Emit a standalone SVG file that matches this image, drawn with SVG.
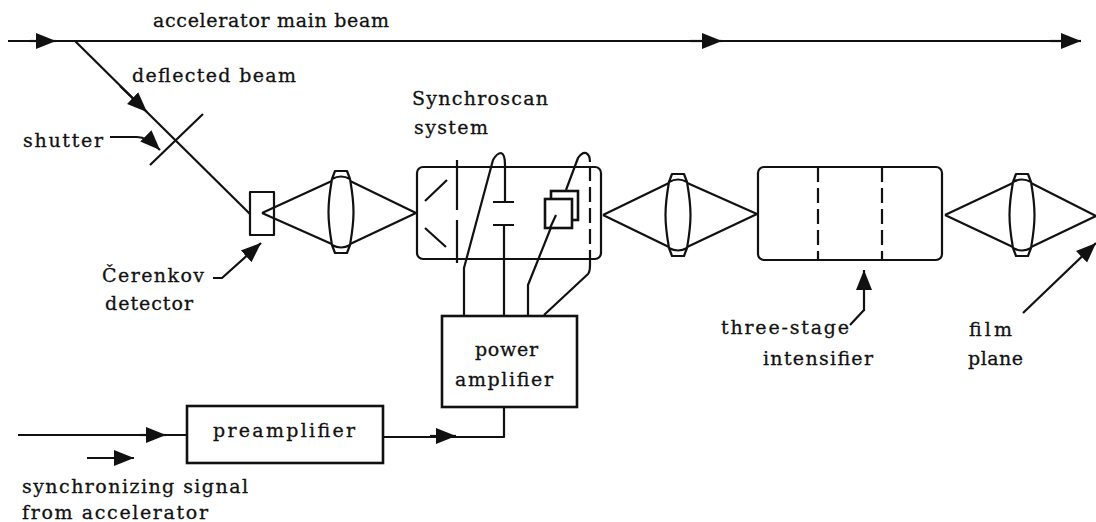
<svg xmlns="http://www.w3.org/2000/svg" width="1096" height="522" viewBox="0 0 1096 522">
<style>
.l{fill:none;stroke:#111;stroke-width:2.200;stroke-linejoin:round}
.b{fill:#fff;stroke:#111;stroke-width:2.600}
.w{fill:#fff;stroke:#111;stroke-width:2.200;stroke-linejoin:round}
.d{stroke-dasharray:15 6}
text{font-family:"DejaVu Serif","Liberation Serif",serif;font-size:19px;fill:#111;stroke:#111;stroke-width:.3px}
</style>
<defs>
<marker id="a" markerUnits="userSpaceOnUse" markerWidth="21" markerHeight="18" refX="20" refY="9" orient="auto"><path d="M0,1L20,9L0,17Z" fill="#111"/></marker>
<path id="lens" class="w" d="M-12.500,0C-12.500,-14 -10,-27 -9,-33L-6,-41H6L9,-33C10,-27 12.500,-14 12.500,0C12.500,14 10,27 9,33L6,41H-6L-9,33C-10,27 -12.500,14 -12.500,0ZM-9,-33Q0,-38 9,-33M-9,33Q0,38 9,33"/>
</defs>
<rect width="1096" height="522" fill="#fff"/>
<g id="connectors">
<path class="l" d="M8,41H1080"/>
<path class="l" d="M30,41H56" marker-end="url(#a)"/>
<path class="l" d="M690,41H722" marker-end="url(#a)"/>
<path class="l" d="M1050,41H1081" marker-end="url(#a)"/>
<path class="l" d="M75,41L250,214"/>
<path class="l" d="M120,86L147,112" marker-end="url(#a)"/>
<path class="l" d="M150,165L203,114"/>
<path class="l" d="M110,137H137Q147,137 160,150" marker-end="url(#a)"/>
<path class="l" d="M213,278H222L261,243" marker-end="url(#a)"/>
<path class="l" d="M262,213L334,180M262,213L334,245M348,180L416,213L348,245"/>
<path class="l" d="M603,215L671,182M603,215L671,248M685,182L757,214L685,248"/>
<path class="l" d="M945,215L1015,182M945,215L1015,248M1029,182L1096,216L1029,248"/>
<path class="l" d="M457,160V210M457,220V263"/>
<path class="l" d="M464,315V268L493,160Q497,153 501,153Q505,154 505,165V202M493,202H514M493,225H514M504,225V315"/>
<path class="l" d="M556,215L528,285V315"/>
<path class="l" d="M544,315L588,274Q590,272 590,265"/>
<path class="l d" d="M590,265V160"/>
<path class="l" d="M566,190L578,158Q582,152 586,153Q590,155 590,162"/>
<path class="l" d="M504,407V437H383M18,435H187"/>
<path class="l" d="M430,436H456" marker-end="url(#a)"/>
<path class="l" d="M140,435H166" marker-end="url(#a)"/>
<path class="l" d="M87,458H134" marker-end="url(#a)"/>
<path class="l" d="M864,311V270" marker-end="url(#a)"/>
<path class="l" d="M864,310L850,325"/>
<path class="l" d="M1023,313L1096,243" marker-end="url(#a)"/>
</g>
<g id="cerenkov-detector"><rect class="l" x="250" y="192" width="24" height="43"/></g>
<g id="lens-1"><use href="#lens" x="341" y="212"/></g>
<g id="synchroscan-system">
<rect class="l" x="417" y="167" width="184" height="92" rx="6"/>
<path class="l" d="M425,201L447,180M425,228L446,247"/>
<rect class="b" x="551" y="191" width="27" height="29"/>
<rect class="b" x="545" y="199" width="27" height="29"/>
<path class="l" d="M556,215L550,228"/>
</g>
<g id="lens-2"><use href="#lens" x="678" y="215"/></g>
<g id="three-stage-intensifier">
<rect class="l" x="758" y="167" width="184" height="93" rx="6"/>
<path class="l d" d="M818,167V260M882,167V260"/>
</g>
<g id="lens-3"><use href="#lens" x="1022" y="215"/></g>
<g id="power-amplifier">
<rect class="b" x="442" y="316" width="135" height="91"/>
<text x="475" y="356" textLength="63">power</text>
<text x="455" y="386" textLength="98">amplifier</text>
</g>
<g id="preamplifier">
<rect class="b" x="187" y="406" width="196" height="57"/>
<text x="213" y="437" textLength="142">preamplifier</text>
</g>
<g id="labels">
<text x="153" y="27" textLength="236">accelerator main beam</text>
<text x="132" y="82" textLength="164">deflected beam</text>
<text x="412" y="105" textLength="136">Synchroscan</text>
<text x="414" y="134" textLength="74">system</text>
<text x="23" y="147" textLength="80">shutter</text>
<text x="102" y="282" textLength="102">Čerenkov</text>
<text x="105" y="310" textLength="88">detector</text>
<text x="721" y="334" textLength="128">three-stage</text>
<text x="763" y="365" textLength="110">intensifier</text>
<text x="969" y="336" textLength="43">film</text>
<text x="968" y="365" textLength="55">plane</text>
<text x="22" y="493" textLength="226">synchronizing signal</text>
<text x="22" y="519" textLength="186">from accelerator</text>
</g>
</svg>
